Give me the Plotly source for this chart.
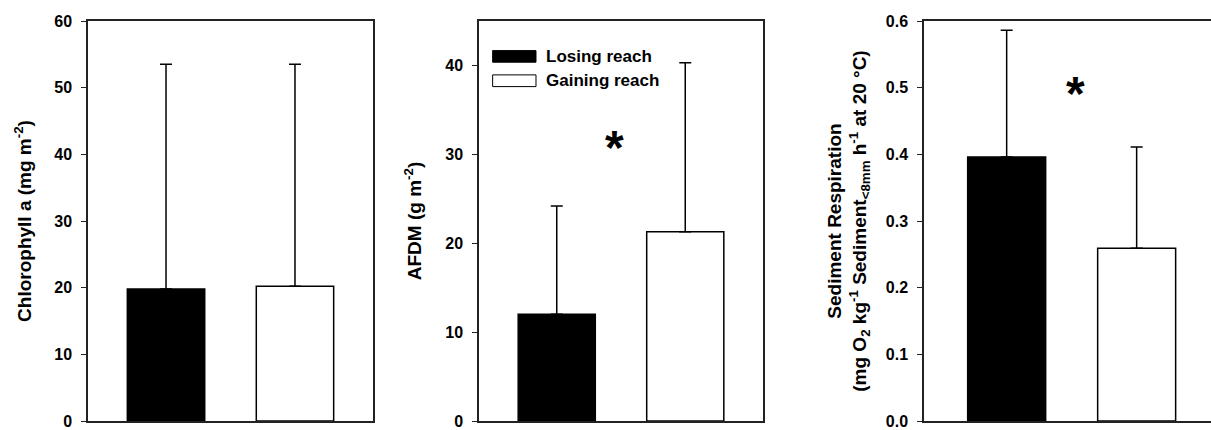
import plotly.graph_objects as go

# ---- data ----
series = ["Losing reach", "Gaining reach"]
colors = ["black", "white"]
chl_mean = [19.8, 20.2]
chl_err = [33.7, 33.3]
afdm_mean = [12.0, 21.3]
afdm_err = [12.2, 19.0]
resp_mean = [0.396, 0.259]
resp_err = [0.190, 0.152]
sig_afdm = (0.45, 31.4)
sig_resp = (0.53, 0.50)

W, H = 1211, 430
FONT = "Liberation Sans, Arial, sans-serif"
LINE = "#222"

fig = go.Figure()

panels = [
    (chl_mean, chl_err, "x", "y"),
    (afdm_mean, afdm_err, "x2", "y2"),
    (resp_mean, resp_err, "x3", "y3"),
]
for means, errs, xa, ya in panels:
    for i, name in enumerate(series):
        fig.add_trace(go.Bar(
            x=[i], y=[means[i]], width=0.6, name=name,
            marker=dict(color=colors[i], line=dict(color="black", width=1.5)),
            error_y=dict(type="data", symmetric=False, array=[errs[i]], arrayminus=[0],
                         color="black", thickness=1.5, width=6),
            xaxis=xa, yaxis=ya, showlegend=False, hoverinfo="skip",
        ))

ydom = [(430 - 421) / H, (430 - 21) / H]

def xaxis(dom, rng, mirror=True):
    return dict(domain=dom, range=rng, showticklabels=False, ticks="", showgrid=False,
                zeroline=False, showline=True, linecolor=LINE, linewidth=1.5, mirror=mirror,
                automargin=False, fixedrange=True)

def yaxis(anchor, rng, tickvals, ticktext, title, mirror=True, standoff=10):
    return dict(anchor=anchor, domain=ydom, range=rng, tickvals=tickvals, ticktext=ticktext,
                showgrid=False, zeroline=False, showline=True, linecolor=LINE, linewidth=1.5,
                mirror=mirror, ticks="outside", ticklen=5, tickcolor=LINE, tickwidth=1.2,
                ticklabelstandoff=6, automargin=False, ticklabeloverflow="allow",
                fixedrange=True,
                tickfont=dict(family=FONT, size=16, color="black", weight="bold"),
                title=dict(text=title, standoff=standoff,
                           font=dict(family=FONT, size=19, color="black", weight="bold")))

chl_ticks = [0, 10, 20, 30, 40, 50, 60]
afdm_ticks = [0, 10, 20, 30, 40]
resp_ticks = [0.0, 0.1, 0.2, 0.3, 0.4, 0.5, 0.6]

fig.update_layout(
    width=W, height=H, margin=dict(l=0, r=0, t=0, b=0, autoexpand=False),
    paper_bgcolor="white", plot_bgcolor="white", barmode="overlay",
    xaxis=xaxis([88 / W, 373 / W], [-0.605, 1.605]),
    xaxis2=dict(xaxis([479 / W, 763 / W], [-0.605, 1.605]), anchor="y2"),
    xaxis3=dict(xaxis([924 / W, 1.0], [-0.636, 1.572]), anchor="y3"),
    yaxis=yaxis("x", [0, 60], chl_ticks, [str(v) for v in chl_ticks],
                "Chlorophyll a (mg m<sup>-2</sup>)", standoff=18),
    yaxis2=yaxis("x2", [0, 45], afdm_ticks, [str(v) for v in afdm_ticks],
                 "AFDM (g m<sup>-2</sup>)", standoff=19),
    yaxis3=yaxis("x3", [0, 0.6], resp_ticks, [f"{v:.1f}" for v in resp_ticks],
                 "Sediment Respiration<br>(mg O<sub>2</sub> kg<sup>-1</sup> Sediment<sub>&lt;8mm</sub> h<sup>-1</sup> at 20 °C)",
                 mirror=False, standoff=14),
)

# manual legend in the middle panel
leg_rows = [(0.926, 0.897), (0.8653, 0.836)]
for (y1, y0), name, col in zip(leg_rows, series, colors):
    fig.add_shape(type="rect", xref="x2 domain", yref="y2 domain",
                  x0=0.048, x1=0.2007, y0=y0, y1=y1,
                  fillcolor=col, line=dict(color="black", width=1))
    fig.add_annotation(xref="x2 domain", yref="y2 domain", x=0.2289, y=(y0 + y1) / 2,
                       text=name, showarrow=False, xanchor="left", yanchor="middle",
                       font=dict(family=FONT, size=17, color="black", weight="bold"))

for (sx, sy), xa, ya in [(sig_afdm, "x2", "y2"), (sig_resp, "x3", "y3")]:
    fig.add_annotation(xref=xa, yref=ya, x=sx, y=sy, text="*", showarrow=False,
                       xanchor="center", yanchor="middle", yshift=-6,
                       font=dict(family=FONT, size=48, color="black", weight="bold"))

fig.write_html("out.html", config={"displayModeBar": False},
               post_script="document.body.style.margin='0';document.body.style.overflow='hidden';")
